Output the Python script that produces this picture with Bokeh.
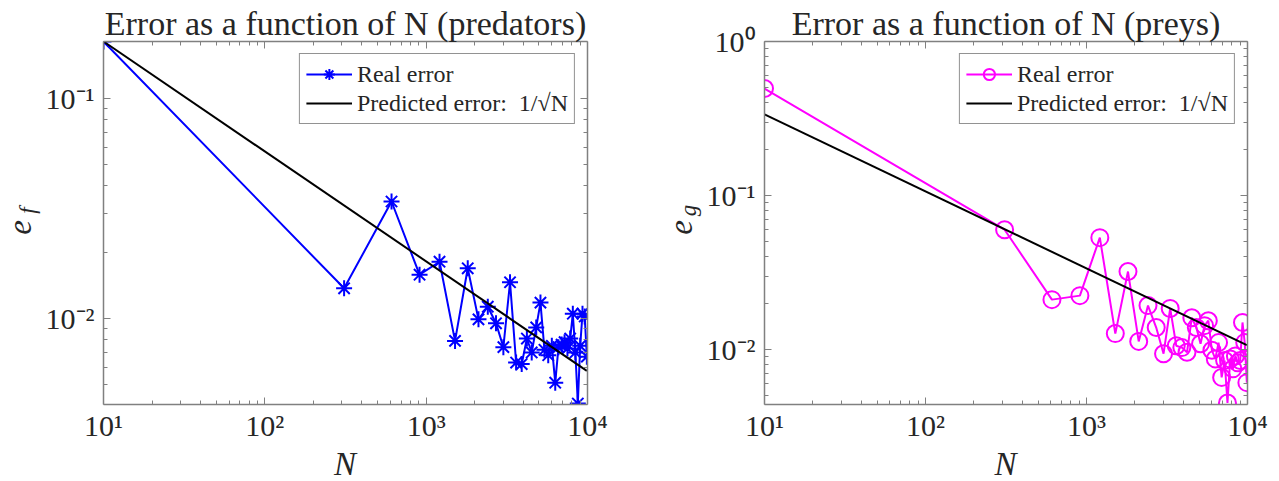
import math
from bokeh.plotting import figure
from bokeh.layouts import row, column
from bokeh.models import (FixedTicker, LogAxis, Label, CustomJSTickFormatter, Range1d)
from bokeh.embed import file_html
from bokeh.resources import INLINE

# ---------------- data ----------------
N = [10, 310, 610, 910, 1210, 1510, 1810, 2110, 2410, 2710, 3010, 3310, 3610, 3910,
     4210, 4510, 4810, 5110, 5410, 5710, 6010, 6310, 6610, 6910, 7210, 7510, 7810,
     8110, 8410, 8710, 9010, 9310, 9610, 9910]
err_f = [0.1815, 0.0137, 0.0340, 0.0158, 0.0181, 0.0079, 0.0169, 0.0099, 0.0113, 0.0095,
         0.0074, 0.0146, 0.0063, 0.0062, 0.0081, 0.0070, 0.0091, 0.0118, 0.0072, 0.0068,
         0.0075, 0.0051, 0.0074, 0.0076, 0.0078, 0.0073, 0.0081, 0.0105, 0.0070, 0.0041,
         0.0075, 0.0105, 0.0102, 0.0067]
err_g = [0.495, 0.060, 0.0211, 0.0224, 0.0533, 0.0127, 0.0321, 0.0113, 0.0193, 0.0139,
         0.0094, 0.0185, 0.0106, 0.0103, 0.0096, 0.0161, 0.0139, 0.0109, 0.0143, 0.0154,
         0.0099, 0.0087, 0.0111, 0.0066, 0.0085, 0.0045, 0.0087, 0.0075, 0.0091, 0.0082,
         0.0085, 0.0150, 0.0111, 0.0061]
N_line = [10, 9910]
pred_f = [0.1815, 0.00577]
pred_g = [0.336, 0.0107]

x_ticks = [10, 100, 1000, 10000]
x_tick_labels = ["10¹", "10²", "10³", "10⁴"]
yf_ticks = [0.01, 0.1]
yf_tick_labels = ["10⁻²", "10⁻¹"]
yg_ticks = [0.01, 0.1, 1]
yg_tick_labels = ["10⁻²", "10⁻¹", "10⁰"]

titles = ["Error as a function of N (predators)", "Error as a function of N (preys)"]
legend_real = "Real error"
legend_pred = "Predicted error:\u00a0\u00a01/√N"

SERIF = "Liberation Serif"
TXT = "#262626"
AXC = "#808080"
BASE_SHIFT = 10   # rendered baseline sits this far below the requested y


def minor_ticks(lo_exp, hi_exp):
    return [m * 10.0 ** e for e in range(lo_exp, hi_exp) for m in range(2, 10)]


def fmt(vals, labs):
    return CustomJSTickFormatter(args=dict(vals=vals, labs=labs), code="""
        let best = 0, d = Infinity;
        for (let i = 0; i < vals.length; i++) {
            const dd = Math.abs(Math.log10(tick) - Math.log10(vals[i]));
            if (dd < d) { d = dd; best = i; }
        }
        return labs[best];
    """)


def style_axis(ax, labels=True):
    ax.axis_line_color = AXC
    ax.axis_line_width = 1.5
    ax.major_tick_line_color = AXC
    ax.minor_tick_line_color = AXC
    ax.major_tick_in = 7
    ax.major_tick_out = 0
    ax.minor_tick_in = 4
    ax.minor_tick_out = 0
    if labels:
        ax.major_label_text_font = SERIF
        ax.major_label_text_font_size = "30px"
        ax.major_label_text_color = TXT
    else:
        ax.major_label_text_font_size = "1px"
        ax.major_label_text_alpha = 0
        ax.major_label_standoff = 0


def canvas_label(p, x, y, text, size, italic=False, angle=0.0, align="left",
                 baseline="alphabetic"):
    p.add_layout(Label(x=x, y=y, x_units="canvas", y_units="canvas", text=text,
                       angle=angle, text_font=SERIF,
                       text_font_style="italic" if italic else "normal",
                       text_font_size=f"{size}px", text_align=align,
                       text_baseline=baseline, text_color=TXT))


def aux_fig(w, h):
    f = figure(width=w, height=h, x_axis_location=None, y_axis_location=None,
               min_border=0, toolbar_location=None, output_backend="svg",
               x_range=Range1d(0, 1), y_range=Range1d(0, 1))
    f.outline_line_color = None
    f.grid.visible = False
    f.background_fill_color = "white"
    f.border_fill_color = "white"
    return f


YSTRIP = 42
LEFT = 60


def make_panel(title, y, pred, ylo, yhi, yticks, ylabels, ymin_exp, color, marker, msize,
               sub, width, right, fw):
    p = figure(x_axis_type="log", y_axis_type="log",
               x_range=Range1d(10, 10000), y_range=Range1d(ylo, yhi),
               width=width, height=446,
               min_border_left=LEFT, min_border_right=right,
               min_border_top=41, min_border_bottom=42,
               output_backend="svg", toolbar_location=None, title=title)
    p.title.text_font = SERIF
    p.title.text_font_size = "34px"
    p.title.text_font_style = "normal"
    p.title.text_color = TXT
    p.title.align = "center"
    p.title.standoff = 0
    p.xgrid.visible = False
    p.ygrid.visible = False
    p.outline_line_color = None
    p.background_fill_color = "white"
    p.border_fill_color = "white"

    top_exp = int(round(math.log10(yticks[-1])))
    p.xaxis.ticker = FixedTicker(ticks=x_ticks, minor_ticks=minor_ticks(1, 4))
    p.xaxis.formatter = fmt(x_ticks, x_tick_labels)
    p.xaxis.major_label_standoff = 4
    style_axis(p.xaxis[0])
    p.yaxis.ticker = FixedTicker(ticks=yticks, minor_ticks=minor_ticks(ymin_exp, top_exp))
    p.yaxis.formatter = fmt(yticks, ylabels)
    p.yaxis.major_label_standoff = 9
    style_axis(p.yaxis[0])

    top = LogAxis(ticker=FixedTicker(ticks=x_ticks, minor_ticks=minor_ticks(1, 4)),
                  formatter=fmt(x_ticks, x_tick_labels))
    style_axis(top, labels=False)
    p.add_layout(top, "above")
    rgt = LogAxis(ticker=FixedTicker(ticks=yticks, minor_ticks=minor_ticks(ymin_exp, top_exp)),
                  formatter=fmt(yticks, ylabels))
    style_axis(rgt, labels=False)
    p.add_layout(rgt, "right")

    p.line(N, y, line_color=color, line_width=2, legend_label=legend_real)
    if marker == "asterisk":
        p.scatter(N, y, marker="asterisk", size=msize, line_color=color, line_width=2,
                  legend_label=legend_real)
    else:
        p.scatter(N, y, marker="circle", size=msize, line_color=color, fill_color=None,
                  line_width=2, legend_label=legend_real)
    p.line(N_line, pred, line_color="black", line_width=2, legend_label=legend_pred)

    leg = p.legend[0]
    leg.location = "top_right"
    leg.margin = 12
    leg.padding = 6
    leg.spacing = 1
    leg.glyph_width = 46
    leg.glyph_height = 28
    leg.label_height = 28
    leg.label_standoff = 5
    leg.label_text_font = SERIF
    leg.label_text_font_size = "24px"
    leg.label_text_color = TXT
    leg.border_line_color = TXT
    leg.border_line_width = 1
    leg.background_fill_alpha = 1.0

    cx = LEFT + fw / 2

    # x label strip
    xfig = aux_fig(width, 35)
    canvas_label(xfig, cx, 27 - BASE_SHIFT, "N", 33, italic=True, align="center")

    # y label strip
    yfig = aux_fig(YSTRIP, 481)
    canvas_label(yfig, 19, 227, "e", 33, italic=True, angle=math.pi / 2,
                 align="center", baseline="middle")
    canvas_label(yfig, 27, 210, sub, 23, italic=True, angle=math.pi / 2,
                 align="center", baseline="middle")

    return row(yfig, column(p, xfig, spacing=0), spacing=0)


panel1 = make_panel(titles[0], err_f, pred_f, 0.00406, 0.1815, yf_ticks, yf_tick_labels,
                    -3, "#0000FF", "asterisk", 16, "f", 661 - YSTRIP, 74, 485)
panel2 = make_panel(titles[1], err_g, pred_g, 0.0044, 1.0, yg_ticks, yg_tick_labels,
                    -3, "#FF00FF", "circle", 17, "g", 1279 - 661 - YSTRIP, 32, 484)

layout = row(panel1, panel2, spacing=0)
open("out.html", "w").write(file_html(layout, INLINE))
